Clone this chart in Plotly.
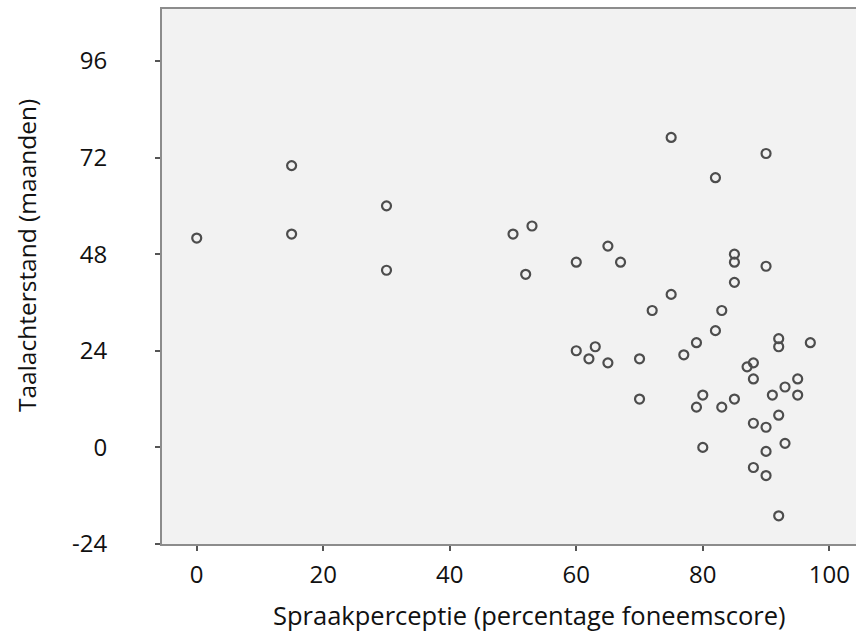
import plotly.graph_objects as go

# Spraakperceptie (percentage foneemscore)
speech = [0, 15, 15, 30, 30, 50, 53, 52,
          75, 90, 82, 65, 60, 67, 85, 85, 90, 85, 75,
          72, 83, 82, 79, 92, 92, 97, 60, 63, 62, 65, 70, 77, 88, 87, 88, 95, 93, 91, 95, 80, 79, 83, 85, 70, 92,
          88, 90, 93, 80, 90, 88, 90, 92]
# Taalachterstand (maanden)
delay = [52, 70, 53, 60, 44, 53, 55, 43,
         77, 73, 67, 50, 46, 46, 48, 46, 45, 41, 38,
         34, 34, 29, 26, 27, 25, 26, 24, 25, 22, 21, 22, 23, 21, 20, 17, 17, 15, 13, 13, 13, 10, 10, 12, 12, 8,
         6, 5, 1, 0, -1, -5, -7, -17]

x_ticks = [0, 20, 40, 60, 80, 100]
y_ticks = [-24, 0, 24, 48, 72, 96]

FONT = "Open Sans"
fig = go.Figure()
fig.add_trace(go.Scatter(
    x=speech, y=delay, mode="markers",
    marker=dict(symbol="circle-open", size=9, color="#4d4d4d",
                line=dict(width=2.2, color="#4d4d4d")),
    showlegend=False, hoverinfo="x+y"))

fig.update_layout(
    width=856, height=634,
    margin=dict(l=162, r=0, t=9, b=90),
    paper_bgcolor="white", plot_bgcolor="#f2f2f2",
    font=dict(family=FONT, size=24, color="#111111"),
    xaxis=dict(range=[-5.49, 104.22], tickvals=x_ticks, ticktext=[str(v) for v in x_ticks],
               showgrid=False, zeroline=False, showline=True, linecolor="#8c8c8c", linewidth=2,
               mirror=True, ticks="outside", ticklen=5, tickwidth=2, tickcolor="#555555",
               ticklabelstandoff=3),
    yaxis=dict(range=[-24, 108.9], tickvals=y_ticks, ticktext=[str(v) for v in y_ticks],
               showgrid=False, zeroline=False, showline=True, linecolor="#8c8c8c", linewidth=2,
               ticks="outside", ticklen=5, tickwidth=2, tickcolor="#555555",
               ticklabelstandoff=43),
    annotations=[
        dict(text="Spraakperceptie (percentage foneemscore)", xref="paper", yref="paper",
             x=0.530, y=-0.133, showarrow=False, xanchor="center", yanchor="middle",
             font=dict(family=FONT, size=25.5, color="#111111")),
        dict(text="Taalachterstand (maanden)", xref="paper", yref="paper",
             x=-0.196, y=0.540, showarrow=False, xanchor="center", yanchor="middle", textangle=-90,
             font=dict(family=FONT, size=24.5, color="#111111")),
    ],
)

fig.write_html("out.html", config={"displayModeBar": False},
               post_script="document.body.style.margin='0';document.body.style.overflow='hidden';")
